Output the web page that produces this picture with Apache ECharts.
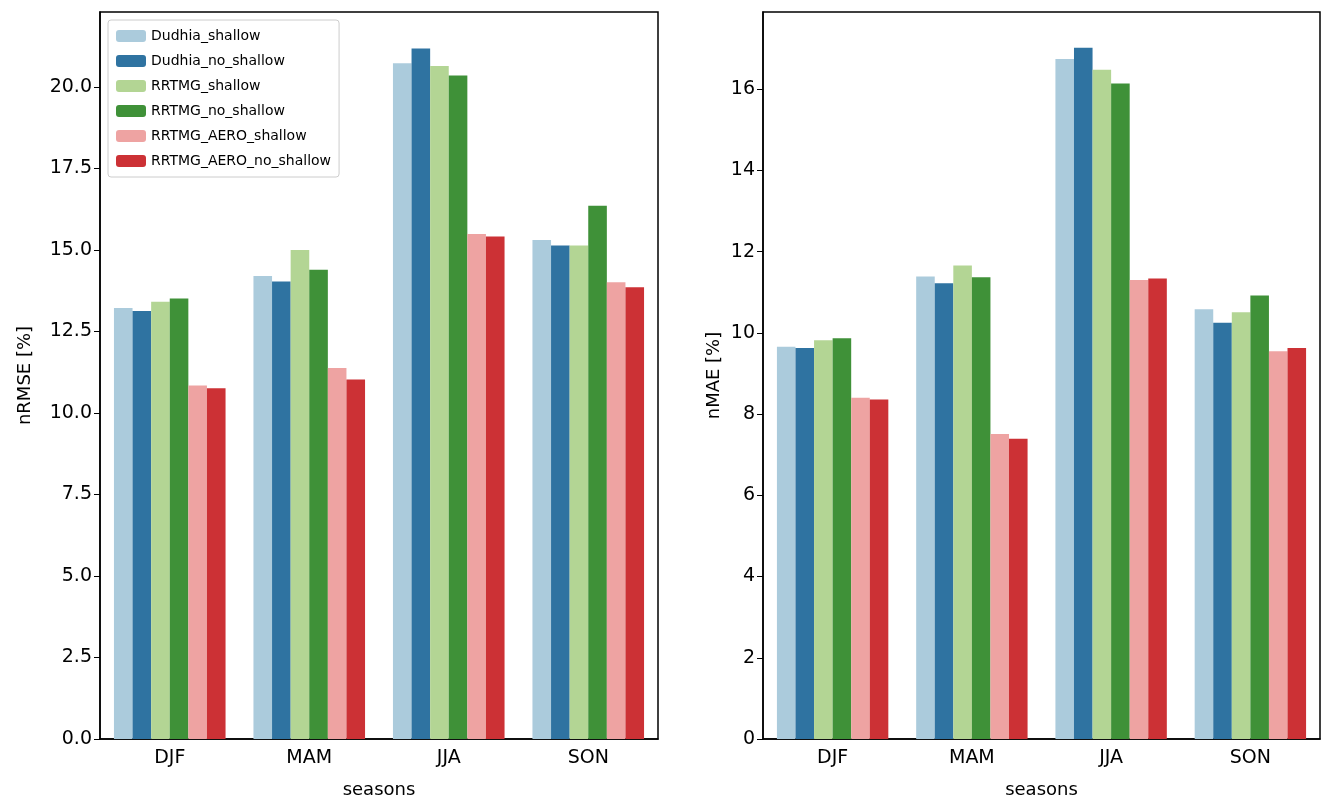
<!DOCTYPE html>
<html><head><meta charset="utf-8">
<script src="https://cdn.jsdelivr.net/npm/echarts@6/dist/echarts.min.js"></script>
<style>html,body{margin:0;background:#fff}#c{width:1323px;height:804px}</style>
</head><body><div id="c"></div>
<script>
var seasons = ['DJF', 'MAM', 'JJA', 'SON'];
var names = ['Dudhia_shallow', 'Dudhia_no_shallow', 'RRTMG_shallow', 'RRTMG_no_shallow', 'RRTMG_AERO_shallow', 'RRTMG_AERO_no_shallow'];
var colors = ['#abcbdc', '#2f73a1', '#b3d594', '#3f9138', '#eea3a2', '#cc3135'];
var nrmse = [
  [13.22, 14.20, 20.73, 15.31],
  [13.13, 14.03, 21.18, 15.14],
  [13.41, 15.00, 20.64, 15.14],
  [13.51, 14.39, 20.35, 16.36],
  [10.84, 11.38, 15.49, 14.01],
  [10.76, 11.03, 15.41, 13.86]
];
var nmae = [
  [9.66, 11.39, 16.74, 10.58],
  [9.63, 11.22, 17.02, 10.25],
  [9.82, 11.66, 16.48, 10.51],
  [9.87, 11.37, 16.14, 10.92],
  [8.40, 7.51, 11.30, 9.55],
  [8.36, 7.39, 11.34, 9.63]
];
var ticksL = [0, 2.5, 5, 7.5, 10, 12.5, 15, 17.5, 20];
var ticksR = [0, 2, 4, 6, 8, 10, 12, 14, 16];

var chart = echarts.init(document.getElementById('c'));
var font = 'DejaVu Sans';
var axisLine = {show: true, lineStyle: {color: '#000', width: 1.5}};
function xAxis(i) {
  return {type: 'category', gridIndex: i, data: seasons, name: 'seasons', nameLocation: 'middle', nameGap: 42,
    nameTextStyle: {fontFamily: font, fontSize: 18, color: '#000'},
    axisLine: axisLine, axisTick: {alignWithLabel: true, length: 6, lineStyle: {color: '#000'}},
    axisLabel: {fontFamily: font, fontSize: 19, color: '#000', margin: 10}};
}
function yAxis(i, max, ticks, name, dec) {
  return {type: 'value', gridIndex: i, min: 0, max: max, name: name,
    nameLocation: 'middle', nameGap: i === 0 ? 66 : 40,
    nameTextStyle: {fontFamily: font, fontSize: 18, color: '#000'},
    axisLine: axisLine, axisTick: {show: true, length: 6, customValues: ticks, lineStyle: {color: '#000'}},
    splitLine: {show: false},
    axisLabel: {fontFamily: font, fontSize: 19, color: '#000', margin: 8, customValues: ticks,
      formatter: function (v) { return v.toFixed(dec); }}};
}
var series = [];
names.forEach(function (n, k) {
  series.push({name: n, type: 'bar', xAxisIndex: 0, yAxisIndex: 0, data: nrmse[k],
    itemStyle: {color: colors[k]}, barGap: '0%', barCategoryGap: '20%'});
  series.push({name: n, type: 'bar', xAxisIndex: 1, yAxisIndex: 1, data: nmae[k],
    itemStyle: {color: colors[k]}, barGap: '0%', barCategoryGap: '20%'});
});
chart.setOption({
  animation: false,
  grid: [
    {left: 100, top: 12, width: 558, height: 728, show: true, borderColor: '#000', borderWidth: 1.5},
    {left: 763, top: 12, width: 557, height: 728, show: true, borderColor: '#000', borderWidth: 1.5}
  ],
  legend: {orient: 'vertical', left: 108, top: 20, itemWidth: 30, itemHeight: 12, itemGap: 11,
    padding: [9, 8], borderColor: '#ccc', borderWidth: 1, borderRadius: 3, backgroundColor: '#fff',
    textStyle: {fontFamily: font, fontSize: 14, color: '#000'}, data: names},
  xAxis: [xAxis(0), xAxis(1)],
  yAxis: [yAxis(0, 22.3, ticksL, 'nRMSE [%]', 1), yAxis(1, 17.9, ticksR, 'nMAE [%]', 0)],
  series: series
});
</script></body></html>
